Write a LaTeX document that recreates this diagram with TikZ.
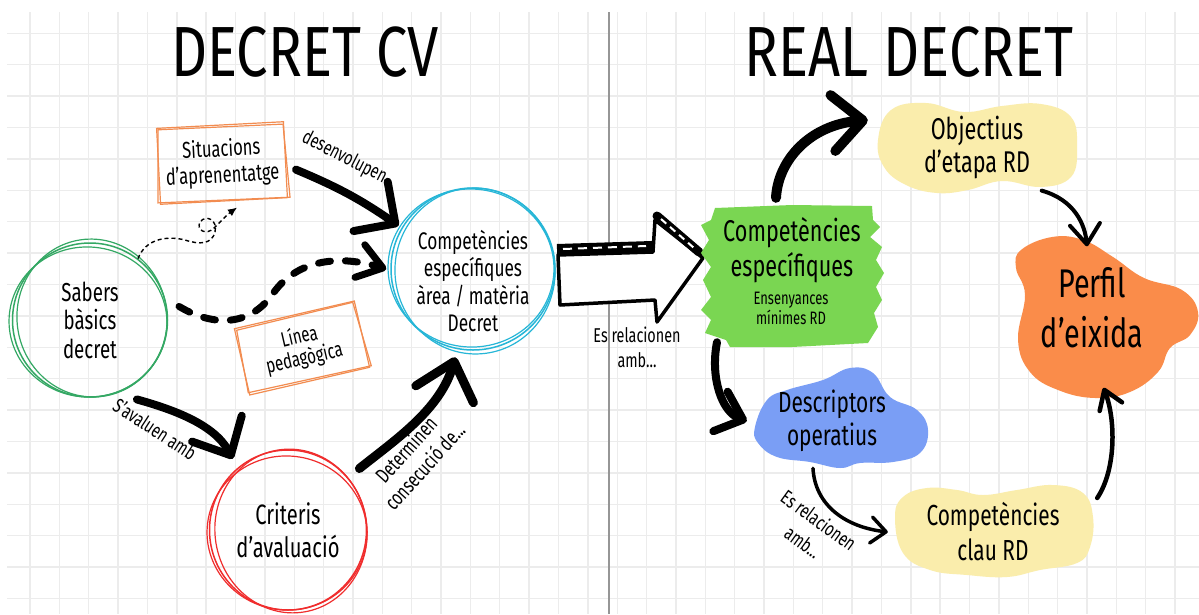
\documentclass[tikz,border=0pt]{standalone}
\usepackage{fontspec}
\newfontfamily\hand[FakeStretch=0.72]{Fira Sans}
\newfontfamily\handtitle[FakeStretch=0.79]{Fira Sans}
\newcommand\handfs[2]{\hand\fontsize{#1}{#2}\selectfont}
\usetikzlibrary{arrows.meta,shapes.geometric,calc}
\definecolor{gridc}{RGB}{236,236,236}
\definecolor{divc}{RGB}{150,150,150}
\definecolor{greenc}{RGB}{52,168,100}
\definecolor{bluec}{RGB}{38,182,215}
\definecolor{redc}{RGB}{240,45,45}
\definecolor{orangec}{RGB}{242,140,80}
\definecolor{brushg}{RGB}{122,214,82}
\definecolor{yellowb}{RGB}{250,237,172}
\definecolor{orangeb}{RGB}{250,140,74}
\definecolor{blueb}{RGB}{122,158,245}
\begin{document}
\begin{tikzpicture}[x=1pt,y=-1pt,
  every node/.style={inner sep=0pt},
  gridrule/.style={draw=gridc,line width=1.4pt},
  circ/.style={ellipse,draw=#1,line width=1.5pt,align=center},
  sketch/.style={draw=#1,line width=1.2pt},
  obox/.style={rectangle,draw=orangec,line width=1.2pt,align=center},
  blobnode/.style={ellipse,align=center},
  lbl/.style={align=center,font=\handfs{20}{25}},
  titletext/.style={font=\handtitle\fontsize{71}{71}\selectfont},
  brush/.style={draw=black,line width=#1,line cap=round,line join=round},
  barb/.style args={#1/#2}{-{Straight Barb[length=#1pt,width=#2pt,round]}}
]
\useasboundingbox (0,0) rectangle (1199,614);
\fill[white] (0,0) rectangle (1199,614);

% squared paper
\foreach \i in {0,...,39} \draw[gridrule] ({30+29.36*\i},12) -- ({30+29.36*\i},614);
\foreach \j in {0,...,18} \draw[gridrule] (7,{33.3+31.4*\j}) -- (1199,{33.3+31.4*\j});
\draw[divc,line width=1.3pt] (609,12) -- (609,614);

% titles
\node[titletext] (t1) at (305,52) {DECRET CV};
\node[titletext] (t2) at (909,52) {REAL DECRET};

% ---------- left half ----------
\node[circ=greenc,minimum width=155pt,minimum height=154pt,font=\handfs{26}{28.5}] (sabers) at (90,320) {Sabers\\bàsics\\decret};
\foreach \dx/\dy/\rx/\ry/\r in {2/-2/75/79/8,-2/2/79/75/-6}
  \draw[sketch=greenc] ([shift={(\dx,\dy)}]sabers.center) ellipse [x radius=\rx, y radius=\ry, rotate=\r];

\node[circ=bluec,minimum width=164pt,minimum height=162pt] (comp) at (473,269) {};
\foreach \dx/\dy/\rx/\ry/\r in {2/2/80/83/7,-2/-1/83/79/-5}
  \draw[sketch=bluec] ([shift={(\dx,\dy)}]comp.center) ellipse [x radius=\rx, y radius=\ry, rotate=\r];
\node[align=center,font=\handfs{24}{27.3}] (compT) at (473,281) {Competències\\específiques\\àrea / matèria\\Decret};

\node[circ=redc,minimum width=157pt,minimum height=160pt,font=\handfs{28}{33}] (crit) at (288,530) {Criteris\\d’avaluació};
\foreach \dx/\dy/\rx/\ry/\r in {3/1/76/82/9,-1/3/80/77/-7}
  \draw[sketch=redc] ([shift={(\dx,\dy)}]crit.center) ellipse [x radius=\rx, y radius=\ry, rotate=\r];

\node[obox,minimum width=127pt,minimum height=76pt,rotate=3,font=\handfs{23}{26}] (situ) at (222,163) {Situacions\\d’aprenentatge};
\draw[sketch=orangec] ([shift={(2,2)}]situ.north west) -- ([shift={(-1,3)}]situ.north east) -- ([shift={(2,-1)}]situ.south east) -- ([shift={(-2,-2)}]situ.south west) -- cycle;

\node[obox,minimum width=123pt,minimum height=68pt,rotate=13,font=\handfs{21}{22}] (linea) at (302,348) {Línea\\pedagògica};
\draw[sketch=orangec] ([shift={(3,2)}]linea.north west) -- ([shift={(-2,2)}]linea.north east) -- ([shift={(1,-2)}]linea.south east) -- ([shift={(-1,-3)}]linea.south west) -- cycle;

% connectors, left half
\draw[brush=8pt,barb=30/60] ([shift={(10,10)}]situ.east) to[bend left=6] ([shift={(-3,-2)}]comp.150);
\node[lbl,rotate=-27] (desen) at (349,160) {desenvolupen...};

\draw[black,line width=1.4pt,dash pattern=on 4pt off 3pt,-{Latex[length=9pt,width=8pt]}]
  (sabers.52) .. controls (145,240) and (165,235) .. (185,240)
  .. controls (200,245) and (212,244) .. (215,232)
  .. controls (218,220) and (206,214) .. (200,222)
  .. controls (196,230) and (206,236) .. (214,228)
  .. controls (222,220) and (228,214) .. ([shift={(13,6)}]situ.south);

\draw[brush=7pt,dash pattern=on 12pt off 15pt,barb=24/34]
  ([xshift=12]sabers.10) .. controls (215,328) and (250,325) .. (272,295)
  .. controls (292,265) and (330,252) .. ([xshift=-4]comp.west);

\draw[brush=8pt,barb=30/56] ([shift={(8,12)}]sabers.-60) .. controls (175,410) and (215,425) .. ([shift={(-6,-8)}]crit.128);
\node[lbl,rotate=-33] (aval) at (155,429) {S’avaluen amb};

\draw[brush=9pt,barb=34/60] ([shift={(12,-8)}]crit.42) .. controls (395,440) and (440,410) .. ([shift={(-2,8)}]comp.-101);
\node[lbl,font=\handfs{21}{25},rotate=48] (deter) at (415,458) {Determinen\\consecució de...};

% ---------- block arrow between the halves ----------
\draw[black,line width=3.5pt,line join=round,fill=white]
  (558,255) -- (653,252) -- (655,220) -- (703,258) -- (657,322) -- (655,300) -- (560,305) -- cycle;
\draw[black,line width=10pt] (557,249) -- (652,246);
\draw[white,line width=2pt,dash pattern=on 9pt off 6pt] (563,249) -- (646,246);
\draw[black,line width=9pt,line cap=round] (657,216) -- (699,252);
\draw[white,line width=2pt,dash pattern=on 7pt off 5pt] (661,219) -- (694,248);
\node[lbl] (rel1) at (637,347) {Es relacionen\\amb...};

% ---------- right half ----------
\fill[brushg] (701,225) -- (711,220) -- (715,208) -- (792,205) -- (872,206) -- (873,220) -- (880,227) -- (870,237)
  -- (882,247) -- (876,260) -- (884,273) -- (876,287) -- (882,300) -- (874,313) -- (878,327) -- (868,343)
  -- (792,347) -- (730,347) -- (726,340) -- (705,333) -- (711,320) -- (701,310) -- (711,297) -- (703,280)
  -- (711,267) -- (701,253) -- (709,240) -- cycle;
\node[minimum width=183pt,minimum height=140pt] (ce) at (792,276) {};
\node[align=center,font=\handfs{30}{35}] (ceT) at (792,250) {Competències\\específiques};
\node[align=center,font=\handfs{18}{20}] (ceS) at (791,308) {Ensenyances\\mínimes RD};

\fill[yellowb] plot[smooth cycle,tension=0.7] coordinates {(878,140) (891,110) (926,103) (964,112) (1002,106) (1041,104) (1071,117) (1077,147) (1071,177) (1041,187) (1002,181) (968,190) (937,193) (906,185) (884,167)};
\node[blobnode,minimum width=200pt,minimum height=90pt,font=\handfs{30}{33}] (obj) at (977,147) {Objectius\\d’etapa RD};

\fill[orangeb] plot[smooth cycle,tension=0.7] coordinates {(1021,250) (1052,237) (1083,240) (1113,257) (1144,278) (1182,290) (1198,312) (1190,335) (1170,348) (1158,372) (1130,392) (1095,398) (1058,390) (1030,372) (1018,340) (1025,295) (1016,268)};
\node[blobnode,minimum width=175pt,minimum height=155pt,font=\handfs{40}{50}] (perfil) at (1092,308) {Perfil\\d’eixida};

\fill[blueb] plot[smooth cycle,tension=0.7] coordinates {(755,427) (767,400) (787,390) (823,380) (850,368) (873,373) (890,397) (917,410) (928,430) (920,453) (893,462) (860,463) (840,468) (810,462) (777,457) (758,443)};
\node[blobnode,minimum width=172pt,minimum height=100pt,font=\handfs{29}{33}] (desc) at (832,421) {Descriptors\\operatius};

\fill[yellowb] plot[smooth cycle,tension=0.7] coordinates {(895,517) (903,497) (927,488) (957,490) (983,495) (1017,490) (1053,485) (1083,493) (1093,517) (1090,547) (1077,563) (1040,570) (1007,577) (967,575) (930,570) (903,553)};
\node[blobnode,minimum width=198pt,minimum height=90pt,font=\handfs{29}{35}] (clau) at (993,532) {Competències\\clau RD};

% connectors, right half
\draw[brush=10pt,barb=30/56] ([shift={(-16,-8)}]ce.north) .. controls (778,160) and (810,125) .. ([shift={(-9,-27)}]obj.west);
\draw[brush=4pt,barb=20/30] ([shift={(3,8)}]obj.-30) .. controls (1075,200) and (1085,225) .. ([shift={(-5,16)}]perfil.north);
\draw[brush=8pt,barb=24/42] ([shift={(-75,-4)}]ce.south) .. controls (710,378) and (722,412) .. ([xshift=1]desc.west);
\draw[brush=3.5pt,barb=15/26] ([shift={(-3,-2)}]desc.-108) .. controls (815,505) and (845,527) .. ([xshift=-6]clau.west);
\node[lbl,font=\handfs{20}{27},rotate=-36] (rel2) at (811,531) {Es relacionen\\amb...};
\draw[brush=4.5pt,barb=18/24] ([shift={(5,-34)}]clau.east) .. controls (1116,470) and (1116,420) .. ([shift={(-2,3)}]perfil.-80);
\end{tikzpicture}
\end{document}
